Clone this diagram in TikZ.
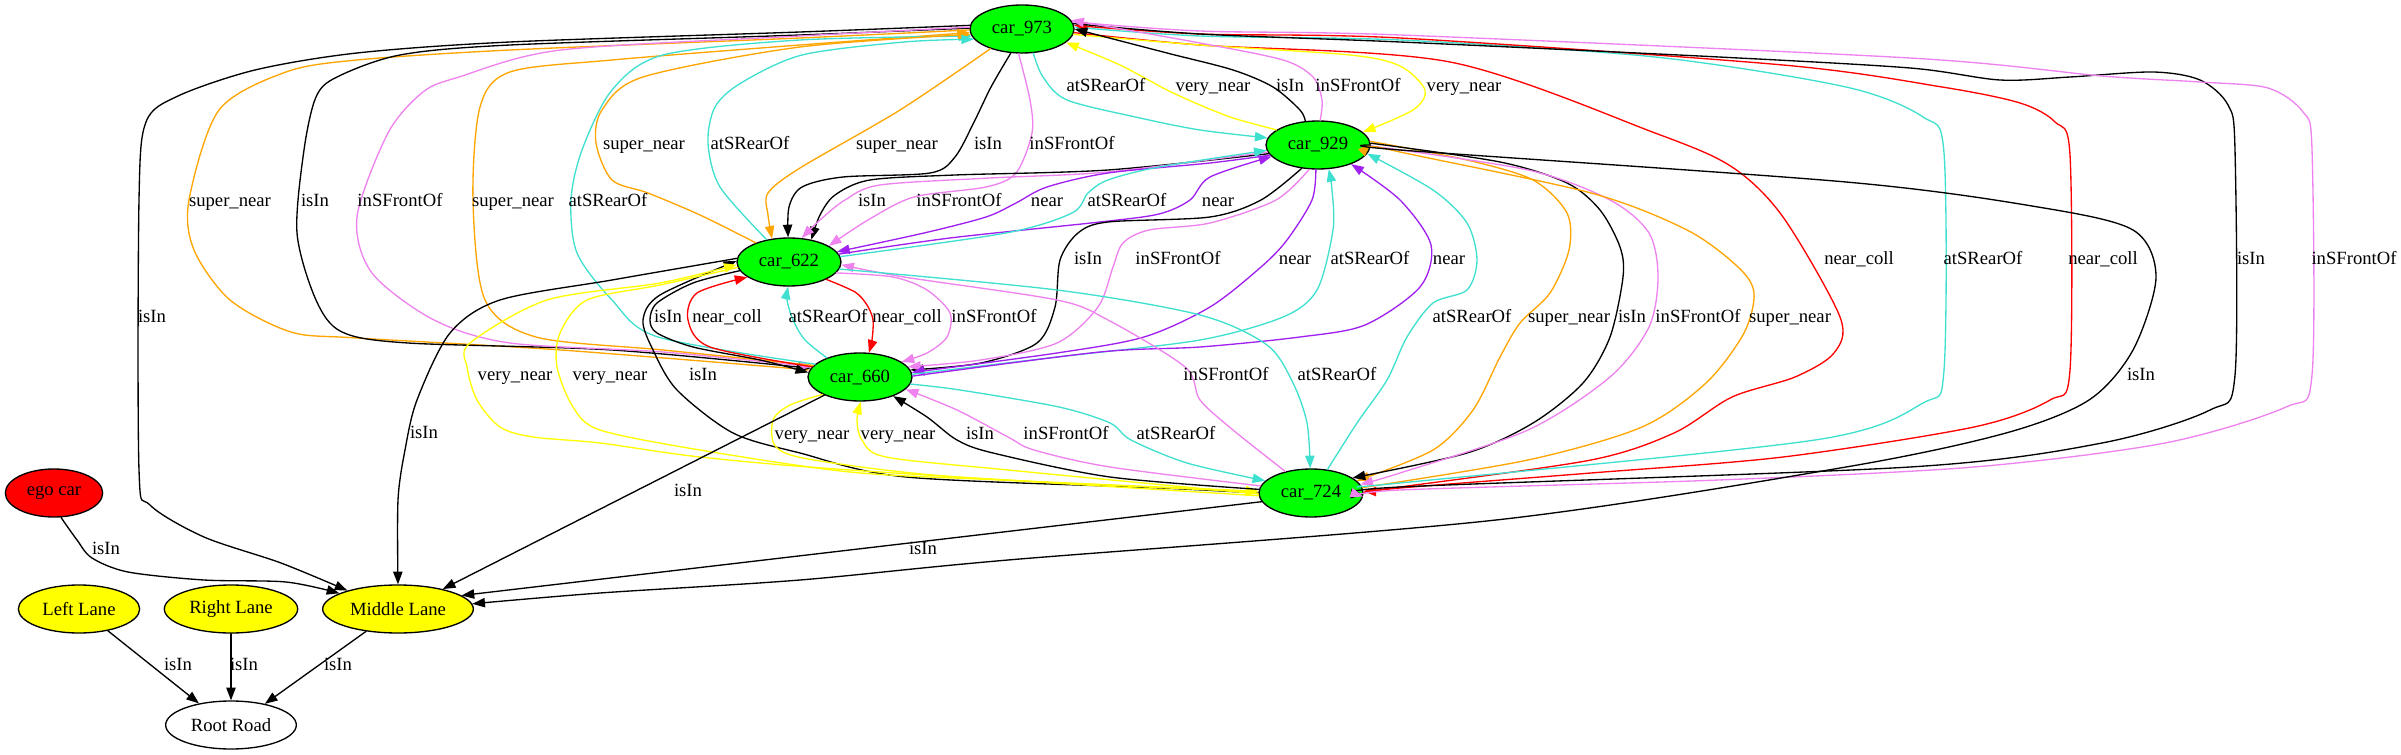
\documentclass[tikz,border=0pt]{standalone}
\usepackage{fontspec}
\setmainfont{Liberation Serif}
\usetikzlibrary{shapes.geometric,arrows.meta}
\definecolor{gvgreen}{HTML}{00FF00}
\definecolor{gvred}{HTML}{FF0000}
\definecolor{gvyellow}{HTML}{FFFF00}
\definecolor{gvorange}{HTML}{FFA500}
\definecolor{gvviolet}{HTML}{EE82EE}
\definecolor{gvturq}{HTML}{40E0D0}
\definecolor{gvpurple}{HTML}{A020F0}
\begin{document}
\begin{tikzpicture}[line
				join=round,line
				cap=round,x=0.75pt,y=-0.75pt,font=\fontsize{14}{16}\selectfont,>={Triangle[length=9.5pt,width=7pt]},
				obj/.style={ellipse,draw,line width=1pt,minimum height=36pt,inner sep=0pt},
				car/.style={obj,fill=gvgreen,minimum width=78pt},
				lane/.style={obj,fill=gvyellow},
				lbl/.style={inner sep=0pt,text height=9.5pt,text depth=2.5pt},
				rel/.style={->,line width=1pt},
				rIsIn/.style={rel,draw=black},
				rSuper/.style={rel,draw=gvorange},
				rVery/.style={rel,draw=gvyellow},
				rNear/.style={rel,draw=gvpurple},
				rColl/.style={rel,draw=gvred},
				rFront/.style={rel,draw=gvviolet},
				rRear/.style={rel,draw=gvturq}]
				\useasboundingbox (0,0) rectangle (2401,755);
				\node[car] (c973) at (1022,29) {car\_973};
				\node[car] (c929) at (1318,145) {car\_929};
				\node[car] (c622) at (789,262) {car\_622};
				\node[car] (c660) at (860,377) {car\_660};
				\node[car] (c724) at (1311,493) {car\_724};
				\node[obj,fill=gvred,minimum width=73pt] (ego) at (54,493) {ego car};
				\node[lane,minimum width=91pt] (ll) at (79,609) {Left Lane};
				\node[lane,minimum width=100pt] (rl) at (231,609) {Right Lane};
				\node[lane,minimum width=113pt] (ml) at (398,609) {Middle Lane};
				\node[obj,minimum width=98pt] (rr) at (231,725) {Root Road};
				\draw[rIsIn] plot[smooth] coordinates {(c973.176) (800,32) (510,42) (357,53) (255,70) (178,96) (146,122) (139,200) (139,470) (150,505) (204,537) (281,563) (ml.160)};
				\draw[rSuper] plot[smooth] coordinates {(c973.181) (800,38) (510,50) (357,60) (286,72) (219,110) (189,200) (194,250) (230,300) (291,332) (357,338) (561,350) (c660.172)};
				\draw[rIsIn] plot[smooth] coordinates {(c973.179) (800,35) (510,45) (400,55) (337,77) (316,97) (304,150) (297,233) (316,300) (342,332) (408,343) (612,350) (c660.170)};
				\draw[rFront] plot[smooth] coordinates {(c973.178) (800,36) (561,50) (459,77) (423,92) (388,133) (357,217) (372,273) (434,320) (510,343) (663,352) (c660.168)};
				\draw[rSuper] plot[smooth] coordinates {(c660.166) (663,350) (536,337) (485,300) (473,200) (480,107) (510,72) (612,60) (800,45) (c973.184)};
				\draw[rRear] plot[smooth] coordinates {(c660.164) (658,337) (612,300) (577,253) (571,200) (582,150) (612,90) (663,55) (800,40) (c973.188)};
				\draw[rSuper] plot[smooth] coordinates {(c622.150) (700,215) (648,193) (612,180) (596,143) (602,110) (643,77) (800,47) (c973.186)};
				\draw[rRear] plot[smooth] coordinates {(c622.135) (720,187) (708,143) (715,107) (741,83) (802,55) (904,42) (c973.192)};
				\draw[rSuper] plot[smooth] coordinates {(c973.212) (900,110) (800,168) (768,193) (768,215) (c622.126)};
				\draw[rIsIn] plot[smooth] coordinates {(c973.245) (991,87) (975,120) (955,157) (930,173) (843,177) (802,187) (789,207) (c622.92)};
				\draw[rFront] plot[smooth] coordinates {(c973.262) (1030,100) (1032,133) (1016,173) (986,187) (914,197) (868,220) (c622.22)};
				\draw[rIsIn] plot[smooth] coordinates {(c929.190) (1108,170) (955,175) (870,180) (835,195) (820,215) (c622.45)};
				\draw[rFront] plot[smooth] coordinates {(c929.188) (1108,172) (990,178) (880,185) (845,200) (820,220) (c622.62)};
				\draw[rNear] plot[smooth] coordinates {(c929.192) (1210,163) (1108,173) (1047,187) (1016,203) (986,217) (924,233) (c622.12)};
				\draw[rNear] plot[smooth] coordinates {(c622.9) (950,238) (1100,222) (1159,214) (1190,200) (1210,177) (c929.194)};
				\draw[rRear] plot[smooth] coordinates {(c622.6) (1006,233) (1072,213) (1088,193) (1108,180) (1159,167) (c929.186)};
				\draw[rIsIn] plot[smooth] coordinates {(c929.235) (1261,200) (1210,217) (1108,222) (1078,233) (1060,260) (1055,307) (1037,343) (981,363) (c660.8)};
				\draw[rFront] plot[smooth] coordinates {(c929.250) (1276,200) (1210,223) (1149,230) (1123,243) (1113,267) (1098,307) (1057,343) (981,360) (c660.12)};
				\draw[rNear] plot[smooth] coordinates {(c929.265) (1312,200) (1287,240) (1261,267) (1210,307) (1144,337) (1057,353) (c660.5)};
				\draw[rRear] plot[smooth] coordinates {(c660.3) (1057,357) (1200,340) (1283,317) (1317,290) (1333,230) (1332,190) (c929.294)};
				\draw[rNear] plot[smooth] coordinates {(c660.1) (1100,352) (1200,347) (1300,337) (1365,325) (1420,287) (1431,245) (1400,200) (c929.330)};
				\draw[rRear] plot[smooth] coordinates {(c724.55) (1357,423) (1387,380) (1407,337) (1433,303) (1467,290) (1477,260) (1467,223) (1433,190) (c929.350)};
				\draw[rSuper] plot[smooth] coordinates {(c929.4) (1467,160) (1533,180) (1567,213) (1569,250) (1550,293) (1520,323) (1500,357) (1473,410) (1433,450) (c724.15)};
				\draw[rIsIn] plot[smooth] coordinates {(c929.2) (1500,162) (1567,183) (1600,210) (1620,247) (1623,277) (1610,337) (1583,383) (1533,423) (1467,453) (c724.20)};
				\draw[rFront] plot[smooth] coordinates {(c929.359) (1528,170) (1610,200) (1649,233) (1658,277) (1649,327) (1610,377) (1528,430) (1400,473) (c724.10)};
				\draw[rSuper] plot[smooth] coordinates {(c724.6) (1528,460) (1642,427) (1706,383) (1744,333) (1754,293) (1738,267) (1687,230) (1591,193) (1400,152) (c929.1)};
				\draw[rColl] plot[smooth] coordinates {(c973.356) (1200,45) (1450,62) (1655,133) (1732,167) (1783,217) (1840,317) (1834,353) (1795,377) (1732,397) (1674,433) (1591,460) (1400,487) (c724.2)};
				\draw[rRear] plot[smooth] coordinates {(c724.8) (1400,483) (1815,440) (1923,403) (1944,370) (1944,153) (1923,117) (1846,87) (1655,57) (1400,40) (1200,36) (c973.2)};
				\draw[rColl] plot[smooth] coordinates {(c724.0) (1400,488) (1591,473) (1783,457) (1974,427) (2050,400) (2070,370) (2070,155) (2055,122) (2020,103) (1942,87) (1783,65) (1400,38) (1200,34) (c973.4)};
				\draw[rIsIn] plot[smooth] coordinates {(c973.6) (1200,34) (1400,42) (1719,57) (1910,68) (2000,80) (2070,77) (2153,72) (2200,80) (2228,105) (2235,150) (2235,375) (2210,410) (2102,443) (1910,467) (1400,487) (c724.358)};
				\draw[rFront] plot[smooth] coordinates {(c973.8) (1200,31) (1400,35) (1910,58) (2102,76) (2200,82) (2268,88) (2303,112) (2312,150) (2312,375) (2286,407) (2165,443) (1974,467) (1719,480) (1400,490) (c724.356)};
				\draw[rVery] plot[smooth] coordinates {(c973.354) (1200,45) (1350,55) (1400,66) (1425,90) (1413,110) (c929.16)};
				\draw[rRear] plot[smooth] coordinates {(c973.295) (1043,77) (1067,100) (1140,118) (1200,130) (c929.172)};
				\draw[rVery] plot[smooth] coordinates {(c929.160) (1233,118) (1200,105) (1167,90) (1120,65) (c973.343)};
				\draw[rIsIn] plot[smooth] coordinates {(c929.118) (1300,110) (1273,87) (1233,70) (1167,53) (c973.0)};
				\draw[rFront] plot[smooth] coordinates {(c929.85) (1322,100) (1313,77) (1283,60) (1200,43) (c973.10)};
				\draw[rIsIn] plot[smooth] coordinates {(c622.190) (693,283) (657,303) (650,320) (657,333) (693,347) (760,360) (c660.175)};
				\draw[rIsIn] plot[smooth] coordinates {(c724.180) (1161,488) (906,477) (800,453) (733,433) (677,390) (653,350) (643,320) (660,295) (c622.179)};
				\draw[rColl] plot[smooth] coordinates {(c660.168) (710,347) (688,320) (697,293) (c622.200)};
				\draw[rRear] plot[smooth] coordinates {(c660.150) (805,340) (793,320) (787,300) (c622.268)};
				\draw[rColl] plot[smooth] coordinates {(c622.335) (855,292) (867,305) (873,320) (872,340) (c660.70)};
				\draw[rFront] plot[smooth] coordinates {(c622.347) (893,277) (927,290) (950,313) (947,337) (927,353) (c660.20)};
				\draw[rFront] plot[smooth] coordinates {(c724.140) (1233,430) (1200,400) (1185,367) (1108,320) (1057,300) (904,277) (c622.357)};
				\draw[rRear] plot[smooth] coordinates {(c622.352) (1057,290) (1200,315) (1267,345) (1293,383) (1307,423) (c724.92)};
				\draw[rVery] plot[smooth] coordinates {(c724.183) (850,470) (700,457) (600,443) (533,437) (500,427) (477,400) (467,367) (470,343) (547,300) (660,283) (c622.183)};
				\draw[rVery] plot[smooth] coordinates {(c622.186) (660,285) (587,300) (560,333) (557,367) (573,407) (600,430) (700,450) (850,472) (1000,480) (c724.178)};
				\draw[rVery] plot[smooth] coordinates {(c660.205) (790,405) (773,420) (776,447) (814,460) (957,477) (c724.179)};
				\draw[rVery] plot[smooth] coordinates {(c724.181) (1008,470) (886,457) (862,440) (857,420) (c660.272)};
				\draw[rIsIn] plot[smooth] coordinates {(c724.176) (1110,477) (993,453) (957,440) (927,417) (c660.330)};
				\draw[rFront] plot[smooth] coordinates {(c724.172) (1110,467) (1034,450) (1008,437) (957,410) (c660.345)};
				\draw[rRear] plot[smooth] coordinates {(c660.352) (960,390) (1059,407) (1110,423) (1131,440) (1187,463) (c724.165)};
				\draw[rIsIn] plot[smooth] coordinates {(c622.176) (612,280) (500,300) (450,333) (417,400) (405,450) (398,500) (ml.90)};
				\draw[rIsIn] (c660.207) -- (ml.24);
				\draw[rIsIn] (c724.190) -- (ml.12);
				\draw[rIsIn] plot[smooth] coordinates {(c929.0) (1400,150) (1846,182) (2038,207) (2133,230) (2156,277) (2133,350) (2089,400) (2006,433) (1846,467) (1496,520) (1008,560) (800,580) (600,593) (ml.4)};
				\draw[rIsIn] plot[smooth] coordinates {(ego.286) (77,540) (92,558) (128,572) (204,580) (286,582) (ml.165)};
				\draw[rIsIn] (ll.323) -- (rr.146);
				\draw[rIsIn] (rl.south) -- (rr.north);
				\draw[rIsIn] (ml.215) -- (rr.32);
				\foreach \t/\x/\y [count=\i] in {atSRearOf/1106/87,very\_near/1213/87,isIn/1290/87,inSFrontOf/1358/87,very\_near/1464/87,
						super\_near/644/145,atSRearOf/750/145,super\_near/897/145,isIn/988/145,inSFrontOf/1072/145,
						super\_near/230/202,isIn/315/202,inSFrontOf/400/202,super\_near/513/202,atSRearOf/608/202,
						isIn/872/202,inSFrontOf/959/202,near/1047/202,atSRearOf/1127/202,near/1218/202,
						isIn/1088/260,inSFrontOf/1178/260,near/1295/260,atSRearOf/1370/260,near/1449/260,
						near\_coll/1859/260,atSRearOf/1983/260,near\_coll/2103/260,isIn/2251/260,inSFrontOf/2354/260,
						isIn/152/318,isIn/668/318,near\_coll/727/318,atSRearOf/828/318,near\_coll/907/318,inSFrontOf/994/318,
						atSRearOf/1472/318,super\_near/1569/318,isIn/1632/318,inSFrontOf/1698/318,super\_near/1790/318,
						very\_near/515/376,very\_near/610/376,isIn/703/376,inSFrontOf/1226/376,atSRearOf/1337/376,isIn/2141/376,
						isIn/424/434,very\_near/812/435,very\_near/898/435,isIn/980/435,inSFrontOf/1066/435,atSRearOf/1176/435,
						isIn/688/492,isIn/106/550,isIn/923/550,isIn/178/666,isIn/244/666,isIn/338/666}
					\node[lbl] (lab\i) at (\x,\y) {\t};
			\end{tikzpicture}
\end{document}
